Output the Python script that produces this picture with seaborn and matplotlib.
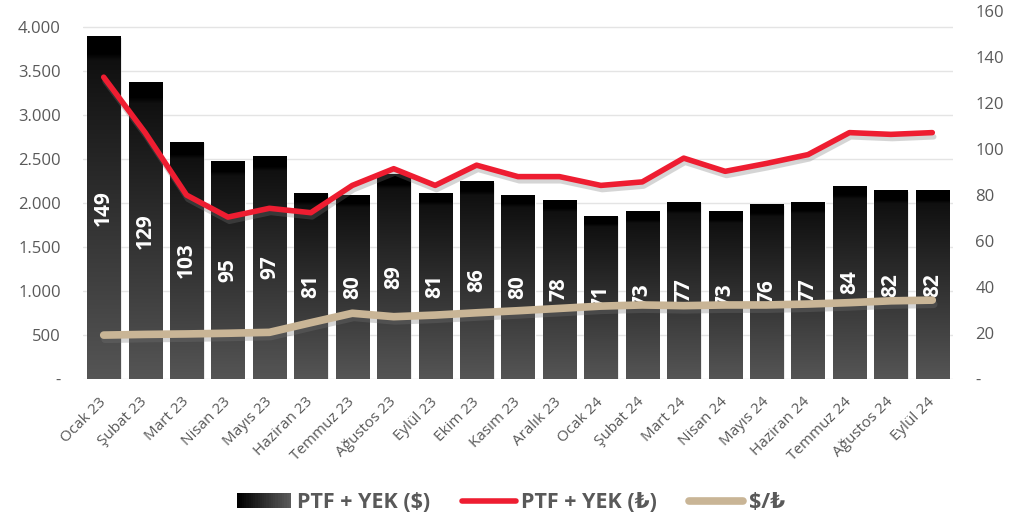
import numpy as np
import pandas as pd
import matplotlib
matplotlib.use('Agg')
import matplotlib.pyplot as plt
import seaborn as sns
from matplotlib import patheffects as pe
from matplotlib.colors import LinearSegmentedColormap
from matplotlib.patches import Rectangle, Patch
from matplotlib.lines import Line2D
from matplotlib.legend_handler import HandlerBase
from matplotlib.ticker import FuncFormatter

# Veriler
months = ['Ocak 23', 'Şubat 23', 'Mart 23', 'Nisan 23', 'Mayıs 23', 'Haziran 23',
          'Temmuz 23', 'Ağustos 23', 'Eylül 23', 'Ekim 23', 'Kasım 23', 'Aralık 23',
          'Ocak 24', 'Şubat 24', 'Mart 24', 'Nisan 24', 'Mayıs 24', 'Haziran 24',
          'Temmuz 24', 'Ağustos 24', 'Eylül 24']
ptf_usd = [149, 129, 103, 95, 97, 81, 80, 89, 81, 86, 80, 78, 71, 73, 77, 73, 76, 77, 84, 82, 82]
ptf_try = [3430, 2800, 2090, 1840, 1940, 1890, 2200, 2390, 2200, 2430, 2300, 2300,
           2200, 2240, 2510, 2360, 2450, 2550, 2800, 2780, 2800]
usd_try = [19.1, 19.4, 19.6, 19.9, 20.3, 24.5, 28.6, 27.1, 27.8, 28.8, 29.7, 30.7,
           31.7, 32.2, 31.9, 32.2, 32.2, 32.6, 33.2, 34.0, 34.3]

df = pd.DataFrame({'ay': months, 'usd': ptf_usd, 'tl': ptf_try, 'kur': usd_try})
x = np.arange(len(months))

RED = '#EE1D31'
TAN = '#C9B596'
GREY = '#595959'

sns.set_theme(style='white')
plt.rcParams['font.family'] = ['Open Sans', 'DejaVu Sans']

fig = plt.figure(figsize=(10.22, 5.19), dpi=100)
ax = fig.add_axes([0.0812, 0.2697, 0.8513, 0.7091])
ax2 = ax.twinx()
ax3 = ax.twinx()

left_top = 4000 * 368 / 352

# Sütunlar (sağ eksen)
sns.barplot(data=df, x='ay', y='usd', ax=ax2, color='#555555', width=0.8,
            saturation=1, zorder=1)

bar_cmap = LinearSegmentedColormap.from_list(
    'bar', [(0, '#000000'), (0.05, '#000000'), (0.07, '#101010'), (1, '#555555')])
grad = np.linspace(0, 1, 256).reshape(-1, 1)
for p in ax2.patches:
    x0, w, h = p.get_x(), p.get_width(), p.get_height()
    im = ax2.imshow(grad, cmap=bar_cmap, extent=(x0, x0 + w, 0, h), aspect='auto',
                    origin='upper', zorder=1.5, interpolation='bilinear')
    im.set_clip_path(p)
    p.set_path_effects([pe.SimplePatchShadow(offset=(1, -1), shadow_rgbFace='#9a9a9a',
                                             alpha=0.25), pe.Normal()])

ax2.bar_label(ax2.containers[0], labels=[str(v) for v in ptf_usd], label_type='center',
              rotation=90, color='white', fontsize=15, fontweight='bold', zorder=3)

# Çizgiler
sns.lineplot(x=x, y=usd_try, ax=ax2, color=TAN, linewidth=5.5, zorder=4)
sns.lineplot(x=x, y=ptf_try, ax=ax3, color=RED, linewidth=4)
shadow = [pe.SimpleLineShadow(offset=(1, -3), shadow_color='#777777', alpha=0.3), pe.Normal()]
for line in ax2.lines + ax3.lines:
    line.set_solid_capstyle('round')
    line.set_path_effects(shadow)

# Eksenler
for a in (ax, ax2, ax3):
    a.set_xlim(-0.5, 20.5)
    a.set_xlabel('')
    a.set_ylabel('')
    for s in a.spines.values():
        s.set_visible(False)
ax.set_ylim(0, left_top)
ax3.set_ylim(0, left_top)
ax2.set_ylim(0, 160)

ax.set_yticks(range(0, 4001, 500))
ax.yaxis.set_major_formatter(FuncFormatter(
    lambda v, _: '-' if v == 0 else f'{v:,.0f}'.replace(',', '.')))
ax2.set_yticks(range(0, 161, 20))
ax2.yaxis.set_major_formatter(FuncFormatter(lambda v, _: '-' if v == 0 else f'{v:.0f}'))
ax3.yaxis.set_visible(False)
ax2.grid(False)
ax3.grid(False)
ax.yaxis.grid(True, color='#e4e4e4', linewidth=1)
ax.xaxis.grid(False)

ax.set_xticks(x)
ax.set_xticklabels(months, rotation=45, ha='right', va='center', rotation_mode='anchor')
ax.tick_params(axis='x', length=0, pad=15, labelsize=11, labelcolor=GREY)
ax.tick_params(axis='y', length=0, pad=16, labelsize=12, labelcolor=GREY)
ax2.tick_params(axis='y', length=0, pad=16, labelsize=12, labelcolor=GREY)

# Lejant
leg_cmap = LinearSegmentedColormap.from_list('leg', ['#000000', '#5a5a5a'])


class GradHandler(HandlerBase):
    def create_artists(self, legend, orig_handle, xdescent, ydescent, width, height,
                       fontsize, trans):
        n = 24
        arts = []
        for i in range(n):
            arts.append(Rectangle((-xdescent + width * i / n, -ydescent), width / n * 1.1,
                                  height, facecolor=leg_cmap(i / (n - 1)),
                                  edgecolor='none', transform=trans))
        return arts


bar_handle = Patch(facecolor='#333333')
handles = [bar_handle,
           Line2D([], [], color=RED, linewidth=4, solid_capstyle='round'),
           Line2D([], [], color=TAN, linewidth=5.5, solid_capstyle='round')]
fig.legend(handles, ['PTF + YEK ($)', 'PTF + YEK (₺)', '$/₺'], loc='center',
           bbox_to_anchor=(0.5, 0.031), ncol=3, frameon=False,
           prop={'weight': 'bold', 'size': 15.5}, labelcolor=GREY,
           handlelength=2.5, handletextpad=0.25, columnspacing=1.5,
           handler_map={bar_handle: GradHandler()})

fig.savefig('out.png', dpi=100)
